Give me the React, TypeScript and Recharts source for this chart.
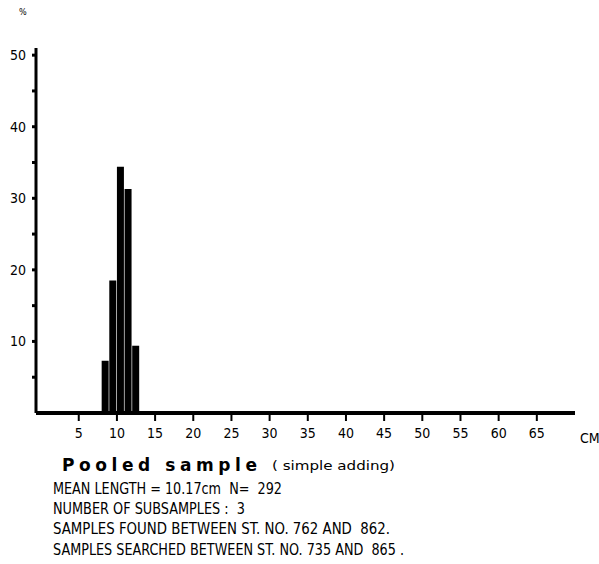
import { Bar, BarChart, XAxis, YAxis } from "recharts";

// length classes (cm) and percentage of the pooled sample
const lengths = [8, 9, 10, 11, 12];
const percents = [7.3, 18.5, 34.4, 31.3, 9.4];

const xTicks = [5, 10, 15, 20, 25, 30, 35, 40, 45, 50, 55, 60, 65];
const yTicks = [5, 10, 15, 20, 25, 30, 35, 40, 45, 50];

const infoLines = [
  "MEAN LENGTH = 10.17cm  N=  292",
  "NUMBER OF SUBSAMPLES :  3",
  "SAMPLES FOUND BETWEEN ST. NO. 762 AND  862.",
  "SAMPLES SEARCHED BETWEEN ST. NO. 735 AND  865 .",
];

const narrow = "'Liberation Sans Narrow', 'DejaVu Sans Condensed', 'DejaVu Sans Mono', sans-serif";

// each class bar starts at its length mark
const data = lengths.map((len, i) => ({ mid: len + 0.5, pct: percents[i] }));

const lineLayout = [
  { y: 494, w: 229 },
  { y: 514, w: 192 },
  { y: 534, w: 337 },
  { y: 555, w: 351 },
];

export default function App() {
  return (
    <div style={{ position: "absolute", left: 0, top: 0, width: 599, height: 564, background: "#fff" }}>
      <BarChart width={599} height={564} data={data} margin={{ top: 48, right: 24, bottom: 121, left: 0 }}>
        <XAxis
          type="number"
          dataKey="mid"
          domain={[-0.6, 70]}
          allowDataOverflow
          ticks={xTicks}
          height={30}
          tickSize={8}
          tickMargin={7}
          axisLine={{ stroke: "#000", strokeWidth: 4 }}
          tickLine={{ stroke: "#000", strokeWidth: 2 }}
          tick={{ fill: "#000", fontSize: 14, fontFamily: narrow }}
        />
        <YAxis
          type="number"
          domain={[0, 51]}
          ticks={yTicks}
          width={36}
          tickSize={4}
          tickMargin={6}
          tickFormatter={(v) => (v % 10 === 0 ? String(v) : "")}
          axisLine={{ stroke: "#000", strokeWidth: 3 }}
          tickLine={{ stroke: "#000", strokeWidth: 3 }}
          tick={{ fill: "#000", fontSize: 14, fontFamily: narrow }}
        />
        <Bar dataKey="pct" fill="#000" barSize={7} isAnimationActive={false} />
      </BarChart>
      <svg
        width={599}
        height={564}
        style={{ position: "absolute", left: 0, top: 0, pointerEvents: "none" }}
      >
        <text x={19} y={15} fontSize={9} fontFamily={narrow} fill="#000">%</text>
        <text x={580} y={443} fontSize={14} fontFamily={narrow} fill="#000">CM</text>
        <text
          x={62}
          y={471}
          fontSize={17}
          fontWeight="bold"
          fontFamily="'DejaVu Sans', sans-serif"
          textLength={195}
          lengthAdjust="spacing"
          fill="#000"
        >
          Pooled sample
        </text>
        <text x={272} y={470} fontSize={12} fontFamily={narrow} textLength={123} lengthAdjust="spacingAndGlyphs" fill="#000">
          ( simple adding)
        </text>
        {infoLines.map((line, i) => (
          <text
            key={line}
            x={53}
            y={lineLayout[i].y}
            fontSize={15}
            fontFamily={narrow}
            textLength={lineLayout[i].w}
            lengthAdjust="spacingAndGlyphs"
            fill="#000"
            style={{ whiteSpace: "pre" }}
          >
            {line}
          </text>
        ))}
      </svg>
    </div>
  );
}
